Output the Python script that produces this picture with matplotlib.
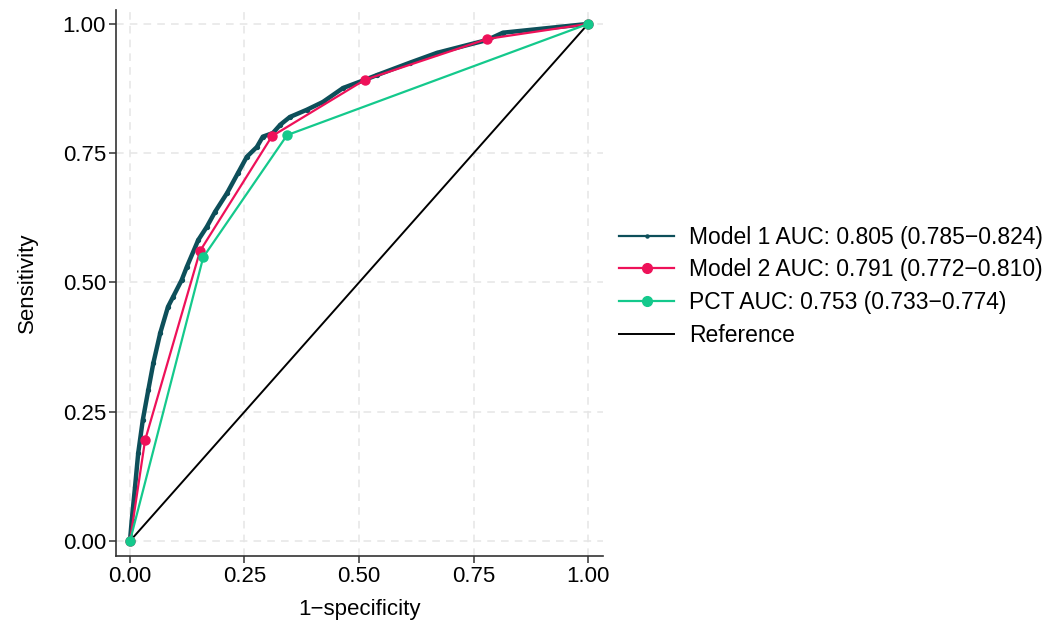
import matplotlib
matplotlib.use("Agg")
import matplotlib.pyplot as plt
from matplotlib.lines import Line2D

# Model 1 ROC (1-specificity, sensitivity)
m1_fpr = [0.0, 0.004, 0.011, 0.018, 0.028, 0.040, 0.051, 0.066, 0.083, 0.094, 0.113,
          0.124, 0.149, 0.168, 0.186, 0.212, 0.236, 0.255, 0.277, 0.290, 0.312, 0.328,
          0.349, 0.386, 0.421, 0.465, 0.513, 0.539, 0.611, 0.670, 0.780, 0.814, 1.0]
m1_tpr = [0.0, 0.041, 0.104, 0.170, 0.234, 0.292, 0.344, 0.402, 0.453, 0.472, 0.505,
          0.530, 0.582, 0.608, 0.637, 0.673, 0.712, 0.743, 0.762, 0.782, 0.789, 0.805,
          0.820, 0.834, 0.849, 0.876, 0.892, 0.901, 0.925, 0.944, 0.969, 0.983, 1.0]

m2_fpr = [0.0, 0.033, 0.153, 0.310, 0.513, 0.780, 1.0]
m2_tpr = [0.0, 0.195, 0.561, 0.783, 0.892, 0.971, 1.0]

pct_fpr = [0.0, 0.160, 0.343, 1.0]
pct_tpr = [0.0, 0.549, 0.785, 1.0]

ref_x = [0.0, 1.0]
ref_y = [0.0, 1.0]

labels = ["Model 1 AUC: 0.805 (0.785\u22120.824)",
          "Model 2 AUC: 0.791 (0.772\u22120.810)",
          "PCT AUC: 0.753 (0.733\u22120.774)",
          "Reference"]
ticks = [0.0, 0.25, 0.5, 0.75, 1.0]
tick_labels = ["0.00", "0.25", "0.50", "0.75", "1.00"]

c1 = "#0d4f5a"
c2 = "#ee1159"
c3 = "#14c98c"

plt.rcParams['font.family'] = ['Liberation Sans', 'DejaVu Sans']

fig = plt.figure(figsize=(10.62, 6.22), dpi=100)
ax = fig.add_axes([0.109, 0.106, 0.459, 0.878])

ax.plot(ref_x, ref_y, color="black", lw=1.4, zorder=2)
ax.plot(m1_fpr, m1_tpr, color=c1, lw=3.2, marker='o', ms=2.8, zorder=3)
ax.plot(m2_fpr, m2_tpr, color=c2, lw=1.6, marker='o', ms=6.5, zorder=4)
ax.plot(pct_fpr, pct_tpr, color=c3, lw=1.6, marker='o', ms=6.5, zorder=5)

ax.set_xlim(-0.031, 1.033)
ax.set_ylim(-0.029, 1.027)
ax.set_xticks(ticks)
ax.set_xticklabels(tick_labels)
ax.set_yticks(ticks)
ax.set_yticklabels(tick_labels)
ax.grid(True, color="#e6e6e6", linestyle=(0, (5, 4)), lw=1.1)
ax.set_axisbelow(True)
for s in ["top", "right"]:
    ax.spines[s].set_visible(False)
for s in ["left", "bottom"]:
    ax.spines[s].set_color("#333333")
    ax.spines[s].set_linewidth(1.2)
ax.tick_params(axis='both', direction='out', length=5, width=1.1, color="#333333",
               labelsize=16, labelcolor="black", pad=2)
ax.set_xlabel("1\u2212specificity", fontsize=16, labelpad=9)
ax.set_ylabel("Sensitivity", fontsize=16, labelpad=18)

handles = [
    Line2D([], [], color=c1, lw=1.6, marker='o', ms=2.2),
    Line2D([], [], color=c2, lw=1.6, marker='o', ms=7),
    Line2D([], [], color=c3, lw=1.6, marker='o', ms=7),
    Line2D([], [], color="black", lw=1.4),
]
fig.legend(handles, labels, loc="center left", bbox_to_anchor=(0.583, 0.540),
           frameon=False, fontsize=16.5, handlelength=2.4, handletextpad=0.65,
           labelspacing=0.42, borderaxespad=0, borderpad=0)

fig.savefig("out.png", dpi=100)
